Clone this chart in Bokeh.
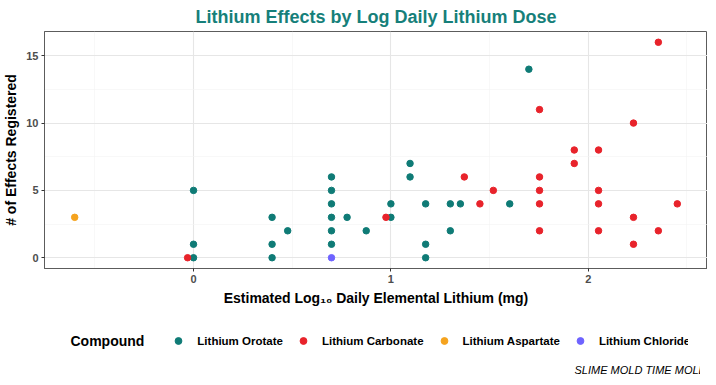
from bokeh.plotting import figure
from bokeh.layouts import column
from bokeh.models import (ColumnDataSource, FixedTicker, Legend, LegendItem,
                          Range1d, Label)
from bokeh.embed import file_html
from bokeh.resources import INLINE

# ---- data ----
orotate_x = [0, 0, 0, 0.398, 0.398, 0.398, 0.477, 0.699, 0.699, 0.699, 0.699,
             0.699, 0.699, 0.778, 0.875, 1.0, 1.0, 1.097, 1.097, 1.176, 1.176,
             1.176, 1.301, 1.301, 1.352, 1.602, 1.699]
orotate_y = [5, 1, 0, 3, 1, 0, 2, 6, 5, 4, 3, 2, 1, 3, 2, 3, 4, 7, 6, 4, 1, 0,
             4, 2, 4, 4, 14]
carbonate_x = [-0.03, 0.975, 1.372, 1.451, 1.519, 1.753, 1.753, 1.753, 1.753,
               1.753, 1.929, 1.929, 2.052, 2.052, 2.052, 2.052, 2.229, 2.229,
               2.229, 2.355, 2.355, 2.451]
carbonate_y = [0, 3, 6, 4, 5, 11, 6, 5, 4, 2, 8, 7, 8, 5, 4, 2, 10, 3, 1, 16,
               2, 4]
aspartate_x = [-0.602]
aspartate_y = [3]
chloride_x = [0.699]
chloride_y = [0]

compounds = ["Lithium Orotate", "Lithium Carbonate", "Lithium Aspartate",
             "Lithium Chloride"]
colors = ["#0f7b76", "#e8232b", "#f5a31e", "#6e63ff"]
series = [(orotate_x, orotate_y), (carbonate_x, carbonate_y),
          (aspartate_x, aspartate_y), (chloride_x, chloride_y)]

x_ticks = [0, 1, 2]
x_minor = [-0.5, 0.5, 1.5, 2.5]
y_ticks = [0, 5, 10, 15]
y_minor = [2.5, 7.5, 12.5]

FONT = "Liberation Sans"

p = figure(frame_width=663, frame_height=237, output_backend="svg",
           toolbar_location=None,
           x_range=Range1d(-0.755, 2.604), y_range=Range1d(-0.8, 16.8),
           min_border_left=37, min_border_right=0, min_border_top=24,
           min_border_bottom=40)

p.title.text = "Lithium Effects by Log Daily Lithium Dose"
p.title.align = "center"
p.title.text_font = FONT
p.title.text_font_size = "18px"
p.title.text_font_style = "bold"
p.title.text_color = "#167f7a"
p.title.offset = 7
p.title.standoff = 9

p.background_fill_color = "white"
p.border_fill_color = "white"
p.outline_line_color = "#5c5c5c"
p.outline_line_width = 1

for (xs, ys), col in zip(series, colors):
    src = ColumnDataSource(dict(x=xs, y=ys))
    p.scatter("x", "y", source=src, size=6.5, color=col, line_color=col)

for ax in (p.xaxis[0], p.yaxis[0]):
    ax.axis_line_color = "#5c5c5c"
    ax.major_tick_line_color = "#333333"
    ax.major_tick_out = 3
    ax.major_tick_in = 0
    ax.minor_tick_out = 0
    ax.minor_tick_in = 0
    ax.major_label_text_font = FONT
    ax.major_label_text_font_size = "11px"
    ax.major_label_text_font_style = "bold"
    ax.major_label_text_color = "#4d4d4d"
    ax.axis_label_text_font = FONT
    ax.axis_label_text_font_size = "14px"
    ax.axis_label_text_font_style = "bold"
    ax.axis_label_text_color = "black"
    ax.major_label_standoff = 3
    ax.axis_label_standoff = 4

p.xaxis.ticker = FixedTicker(ticks=x_ticks, minor_ticks=x_minor)
p.yaxis.ticker = FixedTicker(ticks=y_ticks, minor_ticks=y_minor)
p.xaxis.axis_label = "Estimated Log\u2081\u2080 Daily Elemental Lithium (mg)"
p.yaxis.axis_label = "# of Effects Registered"

for g in (p.xgrid[0], p.ygrid[0]):
    g.grid_line_color = "#e6e6e6"
    g.grid_line_width = 1.1
    g.minor_grid_line_color = "#f3f3f3"
    g.minor_grid_line_width = 0.6

# ---- legend / caption strip ----
LW, LH = 663, 66
q = figure(frame_width=LW, frame_height=LH, output_backend="svg",
           toolbar_location=None,
           x_range=Range1d(0, LW), y_range=Range1d(0, LH),
           min_border_left=37, min_border_right=0,
           min_border_top=0, min_border_bottom=0,
           x_axis_type=None, y_axis_type=None)
q.outline_line_color = None
q.grid.visible = False
q.background_fill_color = "white"
q.border_fill_color = "white"

items = []
nan = float("nan")
for name, col in zip(compounds, colors):
    r = q.scatter(x=[nan], y=[nan], size=6.5, color=col, line_color=col)
    items.append(LegendItem(label=name, renderers=[r]))

legend = Legend(items=items, orientation="horizontal", location=(157, 25))
legend.label_text_font = FONT
legend.label_text_font_size = "11.5px"
legend.label_text_font_style = "bold"
legend.label_text_color = "black"
legend.glyph_width = 18
legend.glyph_height = 17
legend.label_standoff = 10
legend.spacing = 11
legend.padding = 6
legend.margin = 0
legend.border_line_color = None
legend.background_fill_color = None
q.add_layout(legend, "center")

q.add_layout(Label(x=26, y=34, text="Compound", text_font=FONT,
                   text_font_size="14px", text_font_style="bold",
                   text_color="black", text_baseline="middle"))
q.add_layout(Label(x=662, y=5, text="SLIME MOLD TIME MOLD", text_font=FONT,
                   text_font_size="11px", text_font_style="italic",
                   text_color="black", text_align="right",
                   text_baseline="middle"))

layout = column(p, q, spacing=0)
open("out.html", "w").write(file_html(layout, INLINE))
